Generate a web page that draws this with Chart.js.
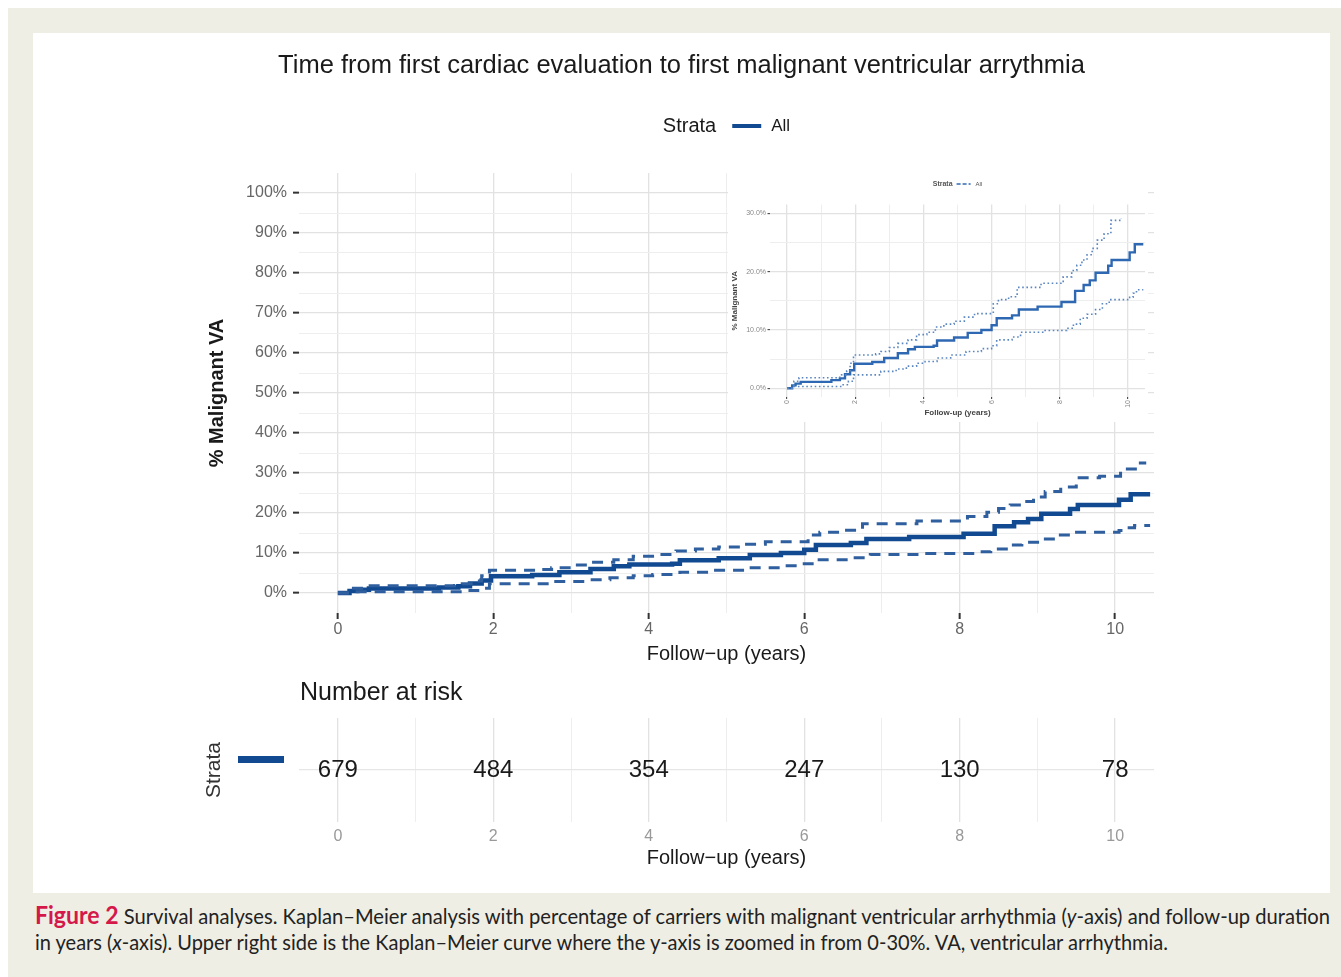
<!DOCTYPE html>
<html>
<head>
<meta charset="utf-8">
<script src="https://cdn.jsdelivr.net/npm/chart.js@4.4.1/dist/chart.umd.min.js"></script>
<style>
  body { margin: 0; width: 1341px; height: 977px; background: #fff; position: relative; overflow: hidden; }
  #frame { position: absolute; left: 8px; top: 8px; right: 0; bottom: 0; background: #efeee4; }
  #panel { position: absolute; left: 33px; top: 33px; width: 1297px; height: 860px; background: #fff; }
  canvas { position: absolute; }
  #mainChart { left: 33px; top: 33px; }
  #insetChart { left: 728px; top: 165px; background: #fff; }
  #riskChart { left: 33px; top: 680px; }
  .cap { position: absolute; left: 35px; white-space: nowrap; font-family: Lato, "Open Sans", sans-serif; font-size: 21px; color: #222; transform-origin: 0 50%; }
  .cap b { color: #d4184a; font-size: 24px; }
</style>
</head>
<body>
<div id="frame"></div>
<div id="panel"></div>
<canvas id="mainChart" width="1297" height="650"></canvas>
<canvas id="insetChart" width="420" height="257"></canvas>
<canvas id="riskChart" width="1297" height="205"></canvas>
<div class="cap" id="cap1" style="top:900px"><b>Figure 2</b> Survival analyses. Kaplan–Meier analysis with percentage of carriers with malignant ventricular arrhythmia (<i>y</i>-axis) and follow-up duration</div>
<div class="cap" id="cap2" style="top:929px">in years (<i>x</i>-axis). Upper right side is the Kaplan–Meier curve where the y-axis is zoomed in from 0-30%. VA, ventricular arrhythmia.</div>
<script>
// Kaplan-Meier estimate (% with malignant VA) and 95% CI
const estYears = [0, 0.15, 0.25, 0.4, 1.3, 1.55, 1.7, 1.85, 1.97, 2.5, 2.85, 3.25, 3.55, 3.75, 4.3, 4.4, 4.9, 5.3, 5.7, 6.0, 6.15, 6.6, 6.8, 7.35, 8.05, 8.45, 8.7, 8.88, 9.05, 9.42, 9.52, 10.05, 10.2, 10.45];
const estPct = [0, 0.5, 0.8, 1.1, 1.4, 1.7, 2.4, 3.1, 4.2, 4.5, 5.2, 6.0, 6.7, 7.1, 7.3, 8.2, 8.7, 9.5, 10.0, 10.8, 12.0, 12.5, 13.5, 14.0, 14.8, 16.7, 17.7, 18.5, 19.8, 21.0, 22.0, 23.3, 24.7, 24.7];

const upperYears = [0, 0.2, 0.35, 1.5, 1.6, 1.75, 1.85, 1.95, 2.6, 2.75, 3.0, 3.25, 3.55, 3.8, 4.1, 4.35, 4.6, 4.9, 5.2, 5.5, 6.05, 6.2, 6.5, 6.75, 7.45, 8.1, 8.35, 8.5, 8.65, 8.8, 8.95, 9.1, 9.3, 9.5, 9.8, 10.07, 10.28, 10.4];
const upperPct = [0, 1.2, 1.8, 1.9, 2.3, 3.0, 4.3, 5.7, 5.9, 6.3, 7.0, 7.7, 8.3, 9.2, 9.6, 10.5, 11.0, 11.5, 12.2, 12.8, 14.5, 15.2, 15.7, 17.3, 18.0, 19.1, 20.2, 21.1, 22.0, 22.9, 24.0, 25.4, 26.5, 28.8, 29.2, 31.0, 32.5, 32.5];

const lowerYears = [0, 0.2, 1.6, 1.8, 1.95, 2.75, 3.2, 3.5, 3.8, 4.05, 4.4, 4.8, 5.25, 5.7, 6.0, 6.15, 6.6, 6.85, 7.5, 8.2, 8.4, 8.6, 8.8, 9.05, 9.25, 9.45, 10.05, 10.15, 10.25, 10.45];
const lowerPct = [0, 0.3, 0.6, 1.2, 2.3, 2.9, 3.3, 3.8, 4.3, 4.6, 5.2, 5.7, 6.3, 6.8, 7.3, 8.3, 8.8, 9.6, 9.9, 10.3, 11.0, 12.0, 12.7, 13.5, 14.5, 15.2, 15.6, 16.3, 16.9, 16.9];

// number at risk table
const riskYears = [0, 2, 4, 6, 8, 10];
const riskCounts = [679, 484, 354, 247, 130, 78];

// axis ticks
const xTickYears = [0, 2, 4, 6, 8, 10];
const xGridYears = [0, 1, 2, 3, 4, 5, 6, 7, 8, 9, 10];
const yTickPct = [0, 10, 20, 30, 40, 50, 60, 70, 80, 90, 100];
const yGridPct = [0, 5, 10, 15, 20, 25, 30, 35, 40, 45, 50, 55, 60, 65, 70, 75, 80, 85, 90, 95, 100];
const insetYTickPct = [0, 10, 20, 30];
const insetYGridPct = [0, 5, 10, 15, 20, 25, 30];

const FONT = '"Liberation Sans", Arial, Helvetica, sans-serif';
const blue = '#124a91';
const ciBlue = '#2f5f9e';
const insetBlue = '#2f68b2';
const insetCi = '#5a86c0';

Chart.defaults.font.family = FONT;
Chart.defaults.animation = false;

function toPoints(xs, ys, cap) {
    return xs.map(function (x, i) {
        return {x: x, y: (cap !== undefined && ys[i] > cap) ? null : ys[i]};
    });
}

function setTicks(list) {
    return function (axis) {
        axis.ticks = list.map(function (v) { return {value: v}; });
    };
}

function gridOpts(majors, tickLen, tickW, drawTicks) {
    return {
        color: function (c) { return c.tick && majors.indexOf(c.tick.value) >= 0 ? '#e2e2e2' : '#eeeeee'; },
        lineWidth: function (c) { return c.tick && majors.indexOf(c.tick.value) >= 0 ? 1.3 : 1; },
        drawTicks: drawTicks,
        tickLength: tickLen,
        tickWidth: tickW,
        tickColor: function (c) { return c.tick && majors.indexOf(c.tick.value) >= 0 ? '#333333' : 'rgba(0,0,0,0)'; }
    };
}

// plot title (centred on the whole figure) and "Strata — All" legend (centred over the panel)
const strataKey = {
    id: 'strataKey',
    afterDraw: function (chart, args, o) {
        const ctx = chart.ctx, a = chart.chartArea;
        ctx.save();
        ctx.textBaseline = 'middle';
        if (o.title) {
            ctx.textAlign = 'center';
            ctx.fillStyle = o.color;
            ctx.font = o.title.size + 'px ' + FONT;
            ctx.fillText(o.title.text, chart.width / 2, o.title.y);
        }
        const f1 = o.titleWeight + ' ' + o.titleSize + 'px ' + FONT;
        const f2 = o.textSize + 'px ' + FONT;
        ctx.font = f1;
        const w1 = ctx.measureText('Strata').width;
        ctx.font = f2;
        const w2 = ctx.measureText('All').width;
        let x = (a.left + a.right) / 2 - (w1 + o.gap1 + o.lineLen + o.gap2 + w2) / 2;
        ctx.textAlign = 'left';
        ctx.fillStyle = o.color;
        ctx.font = f1;
        ctx.fillText('Strata', x, o.y);
        x += w1 + o.gap1;
        ctx.strokeStyle = o.lineColor;
        ctx.lineWidth = o.lineWidth;
        ctx.setLineDash(o.dash);
        ctx.beginPath();
        ctx.moveTo(x, o.y);
        ctx.lineTo(x + o.lineLen, o.y);
        ctx.stroke();
        x += o.lineLen + o.gap2;
        ctx.setLineDash([]);
        ctx.font = f2;
        ctx.fillText('All', x, o.y);
        ctx.restore();
    }
};

// main chart
new Chart(document.getElementById('mainChart'), {
    type: 'line',
    data: {
        datasets: [
            {data: toPoints(upperYears, upperPct), borderColor: ciBlue, borderWidth: 3, borderDash: [11, 8], stepped: 'before', pointRadius: 0},
            {data: toPoints(lowerYears, lowerPct), borderColor: ciBlue, borderWidth: 3, borderDash: [11, 8], stepped: 'before', pointRadius: 0},
            {data: toPoints(estYears, estPct), borderColor: blue, borderWidth: 4.5, stepped: 'before', pointRadius: 0}
        ]
    },
    options: {
        responsive: false,
        layout: {padding: {left: 160, right: 176, top: 140, bottom: 0}},
        scales: {
            x: {
                type: 'linear', min: -0.5, max: 10.5,
                afterBuildTicks: setTicks(xGridYears),
                afterFit: function (s) { s.height = 70; },
                border: {display: false},
                grid: gridOpts(xTickYears, 6, 2, true),
                ticks: {
                    autoSkip: false, maxRotation: 0, padding: 1,
                    color: '#666', font: {size: 16},
                    callback: function (v) { return xTickYears.indexOf(v) >= 0 ? String(v) : ''; }
                },
                title: {display: true, text: 'Follow−up (years)', color: '#1a1a1a', font: {size: 20}, padding: {top: 0, bottom: 17}}
            },
            y: {
                type: 'linear', min: -5, max: 105,
                afterBuildTicks: setTicks(yGridPct),
                afterFit: function (s) { s.width = 106; },
                border: {display: false},
                grid: gridOpts(yTickPct, 6, 2, true),
                ticks: {
                    autoSkip: false, padding: 6,
                    color: '#666', font: {size: 16},
                    callback: function (v) { return yTickPct.indexOf(v) >= 0 ? v + '%' : ''; }
                },
                title: {display: true, text: '% Malignant VA', color: '#1a1a1a', font: {size: 20, weight: 'bold'}, padding: {top: 12, bottom: 0}}
            }
        },
        plugins: {
            legend: {display: false},
            tooltip: {enabled: false},
            strataKey: {
                title: {text: 'Time from first cardiac evaluation to first malignant ventricular arrythmia', size: 25.5, y: 33},
                y: 93, titleSize: 20, titleWeight: 'normal', textSize: 17, gap1: 16, lineLen: 29, gap2: 10,
                lineWidth: 4, lineColor: blue, dash: [], color: '#1a1a1a'
            }
        }
    },
    plugins: [strataKey]
});

// zoomed inset (0-30%)
new Chart(document.getElementById('insetChart'), {
    type: 'line',
    data: {
        datasets: [
            {data: toPoints(upperYears, upperPct, 30), borderColor: insetCi, borderWidth: 1.6, borderDash: [1.6, 2.6], stepped: 'before', pointRadius: 0, spanGaps: false},
            {data: toPoints(lowerYears, lowerPct, 30), borderColor: insetCi, borderWidth: 1.6, borderDash: [1.6, 2.6], stepped: 'before', pointRadius: 0, spanGaps: false},
            {data: toPoints(estYears, estPct, 30), borderColor: insetBlue, borderWidth: 2.4, stepped: 'before', pointRadius: 0}
        ]
    },
    options: {
        responsive: false,
        layout: {padding: {left: 0, right: 3, top: 39.6, bottom: 0}},
        scales: {
            x: {
                type: 'linear', min: -0.5, max: 10.5,
                afterBuildTicks: setTicks(xGridYears),
                afterFit: function (s) { s.height = 25; },
                border: {display: false},
                grid: gridOpts(xTickYears, 2, 1, true),
                ticks: {
                    autoSkip: false, minRotation: 90, maxRotation: 90, padding: 1,
                    color: '#888', font: {size: 7},
                    callback: function (v) { return xTickYears.indexOf(v) >= 0 ? String(v) : ''; }
                },
                title: {display: true, text: 'Follow-up (years)', color: '#444', font: {size: 8, weight: 'bold'}, padding: {top: 0, bottom: 4}}
            },
            y: {
                type: 'linear', min: -1.5, max: 31.5,
                afterBuildTicks: setTicks(insetYGridPct),
                afterFit: function (s) { s.width = 42; },
                border: {display: false},
                grid: gridOpts(insetYTickPct, 2.5, 1, true),
                ticks: {
                    autoSkip: false, padding: 1.5,
                    color: '#888', font: {size: 7},
                    callback: function (v) { return insetYTickPct.indexOf(v) >= 0 ? v.toFixed(1) + '%' : ''; }
                },
                title: {display: true, text: '% Malignant VA', color: '#444', font: {size: 8, weight: 'bold'}, padding: {top: 2, bottom: 0}}
            }
        },
        plugins: {
            legend: {display: false},
            tooltip: {enabled: false},
            strataKey: {y: 19, titleSize: 7, titleWeight: 'bold', textSize: 6, gap1: 4, lineLen: 14, gap2: 5,
                lineWidth: 1.6, lineColor: insetBlue, dash: [4, 2], color: '#555'}
        }
    },
    plugins: [strataKey]
});

// number at risk table
const riskText = {
    id: 'riskText',
    afterDatasetsDraw: function (chart) {
        const ctx = chart.ctx, a = chart.chartArea, ys = chart.scales.y;
        const meta = chart.getDatasetMeta(0);
        ctx.save();
        ctx.fillStyle = '#1a1a1a';
        ctx.textBaseline = 'middle';
        ctx.textAlign = 'center';
        ctx.font = '24px ' + FONT;
        meta.data.forEach(function (pt, i) {
            ctx.fillText(String(riskCounts[i]), pt.x, pt.y);
        });
        ctx.textAlign = 'left';
        ctx.font = '25px ' + FONT;
        ctx.fillText('Number at risk', a.left + 1, 13);
        const rowY = ys.getPixelForValue(1);
        ctx.fillStyle = blue;
        ctx.fillRect(ys.left + 45, rowY - 14, 46, 7);
        ctx.restore();
    }
};

new Chart(document.getElementById('riskChart'), {
    type: 'scatter',
    data: {
        datasets: [{
            data: riskYears.map(function (t) { return {x: t, y: 1}; }),
            pointRadius: 0
        }]
    },
    options: {
        responsive: false,
        layout: {padding: {left: 160, right: 176, top: 38, bottom: 0}},
        scales: {
            x: {
                type: 'linear', min: -0.5, max: 10.5,
                afterBuildTicks: setTicks(xGridYears),
                afterFit: function (s) { s.height = 63; },
                border: {display: false},
                grid: gridOpts(xTickYears, 0, 0, false),
                ticks: {
                    autoSkip: false, maxRotation: 0, padding: 5,
                    color: '#999', font: {size: 16},
                    callback: function (v) { return xTickYears.indexOf(v) >= 0 ? String(v) : ''; }
                },
                title: {display: true, text: 'Follow−up (years)', color: '#1a1a1a', font: {size: 20}, padding: {top: 0, bottom: 15}}
            },
            y: {
                type: 'linear', min: 0, max: 2,
                afterBuildTicks: setTicks([1]),
                afterFit: function (s) { s.width = 106; },
                border: {display: false},
                grid: {color: '#e6e6e6', lineWidth: 1.3, drawTicks: false},
                ticks: {display: false},
                title: {display: true, text: 'Strata', color: '#333', font: {size: 21}, padding: {top: 9, bottom: 0}}
            }
        },
        plugins: {
            legend: {display: false},
            tooltip: {enabled: false}
        }
    },
    plugins: [riskText]
});

// squeeze caption lines to the reference widths
[['cap1', 1295], ['cap2', 1133]].forEach(function (c) {
    const el = document.getElementById(c[0]);
    const w = el.getBoundingClientRect().width;
    el.style.transform = 'scaleX(' + (c[1] / w) + ')';
});
</script>
</body>
</html>
